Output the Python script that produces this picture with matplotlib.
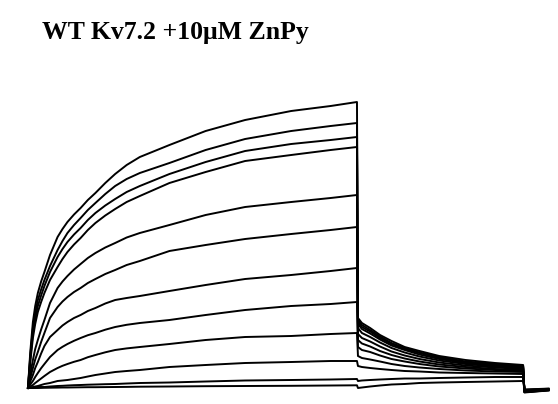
import matplotlib
matplotlib.use("Agg")
import matplotlib.pyplot as plt

title = "WT Kv7.2 +10\u03bcM ZnPy"

# time points (ms) of the activation step
t_act = [0, 7, 15, 22, 30, 40, 50, 67, 90, 105, 120, 140, 160, 182, 205, 235,
         265, 300, 340, 430, 540, 660, 800, 920, 1000]
# time points (ms) of the tail
t_tail = [1003, 1015, 1040, 1070, 1105, 1145, 1190, 1250, 1330, 1420, 1505]
# time points (ms) after the tail
t_end = [1509, 1582]

# activation currents (pA), one list per sweep
act_1 = [0, 360, 660, 820, 950, 1065, 1160, 1330, 1510, 1590, 1660, 1735, 1800, 1880, 1950, 2050, 2140, 2230, 2310, 2430, 2570, 2680, 2770, 2820, 2860]
act_2 = [0, 320, 600, 750, 880, 985, 1080, 1220, 1380, 1470, 1550, 1630, 1700, 1780, 1850, 1940, 2020, 2090, 2150, 2250, 2380, 2490, 2570, 2620, 2650]
act_3 = [0, 290, 550, 695, 820, 925, 1020, 1160, 1310, 1390, 1460, 1535, 1600, 1680, 1750, 1825, 1890, 1960, 2020, 2140, 2260, 2370, 2440, 2480, 2510]
act_4 = [0, 260, 500, 640, 760, 860, 950, 1080, 1210, 1290, 1360, 1435, 1500, 1580, 1650, 1725, 1790, 1860, 1920, 2050, 2160, 2270, 2330, 2380, 2410]
act_5 = [0, 140, 280, 390, 480, 585, 680, 850, 1000, 1065, 1120, 1185, 1240, 1300, 1350, 1405, 1450, 1505, 1550, 1630, 1730, 1810, 1860, 1900, 1930]
act_6 = [0, 100, 200, 285, 360, 460, 550, 700, 810, 865, 910, 960, 1000, 1050, 1090, 1140, 1180, 1230, 1270, 1370, 1430, 1490, 1540, 1580, 1610]
act_7 = [0, 65, 130, 200, 260, 345, 420, 510, 580, 625, 660, 700, 730, 770, 800, 845, 880, 900, 920, 970, 1030, 1090, 1130, 1170, 1200]
act_8 = [0, 35, 70, 110, 150, 198, 240, 310, 380, 412, 440, 472, 500, 528, 550, 583, 610, 632, 650, 680, 730, 780, 820, 840, 860]
act_9 = [0, 15, 30, 50, 70, 95, 120, 160, 200, 222, 240, 262, 280, 308, 330, 357, 380, 396, 410, 440, 480, 510, 520, 540, 550]
act_10 = [0, 5, 10, 15, 20, 30, 40, 50, 70, 75, 80, 90, 100, 115, 130, 145, 160, 170, 180, 210, 230, 250, 260, 270, 270]
act_11 = [0, 0, 0, 5, 10, 10, 10, 15, 20, 22, 25, 28, 30, 33, 35, 38, 40, 45, 50, 55, 65, 75, 80, 85, 90]
act_12 = [0, 0, 0, 0, 0, 1, 2, 3, 4, 5, 5, 6, 7, 8, 8, 9, 10, 11, 13, 15, 18, 20, 22, 25, 27]

# tail currents (pA)
tail_1 = [700, 650, 600, 530, 470, 410, 370, 320, 280, 250, 230]
tail_2 = [680, 630, 580, 515, 450, 400, 355, 310, 265, 240, 220]
tail_3 = [660, 610, 565, 500, 440, 390, 350, 300, 260, 235, 215]
tail_4 = [640, 590, 545, 485, 425, 380, 335, 290, 250, 225, 210]
tail_5 = [600, 550, 510, 455, 400, 355, 315, 275, 240, 215, 200]
tail_6 = [540, 500, 465, 415, 365, 325, 290, 255, 225, 205, 190]
tail_7 = [480, 445, 415, 370, 330, 295, 265, 235, 210, 190, 180]
tail_8 = [410, 380, 360, 325, 290, 265, 240, 215, 195, 180, 170]
tail_9 = [320, 300, 285, 265, 240, 220, 205, 190, 175, 165, 160]
tail_10 = [220, 210, 200, 190, 180, 170, 165, 155, 150, 145, 140]
tail_11 = [70, 75, 80, 85, 90, 95, 95, 100, 105, 110, 110]
tail_12 = [0, 5, 15, 25, 35, 40, 50, 55, 60, 65, 70]

# currents after the tail (pA)
end_1 = [-45, -25]
end_2 = [-42, -23]
end_3 = [-40, -22]
end_4 = [-38, -20]
end_5 = [-35, -18]
end_6 = [-33, -17]
end_7 = [-30, -15]
end_8 = [-28, -13]
end_9 = [-25, -12]
end_10 = [-22, -10]
end_11 = [-18, -8]
end_12 = [-15, -6]

acts = [act_1, act_2, act_3, act_4, act_5, act_6, act_7, act_8, act_9, act_10, act_11, act_12]
tails = [tail_1, tail_2, tail_3, tail_4, tail_5, tail_6, tail_7, tail_8, tail_9, tail_10, tail_11, tail_12]
ends = [end_1, end_2, end_3, end_4, end_5, end_6, end_7, end_8, end_9, end_10, end_11, end_12]

fig = plt.figure(figsize=(5.58, 4.04), dpi=100)
ax = fig.add_axes([0, 0, 1, 1])
t_all = t_act + t_tail + t_end
for a, tl, e in zip(acts, tails, ends):
    ax.plot(t_all, a + tl + e, color="black", lw=1.4, solid_joinstyle="round")
ax.set_xlim(-85, 1611)
ax.set_ylim(-160, 3880)
ax.axis("off")

fig.text(42 / 558, 1 - 38.5 / 404, title, family="Liberation Serif",
         fontweight="bold", fontsize=18.5, va="baseline", ha="left")

fig.savefig("out.png", dpi=100)
